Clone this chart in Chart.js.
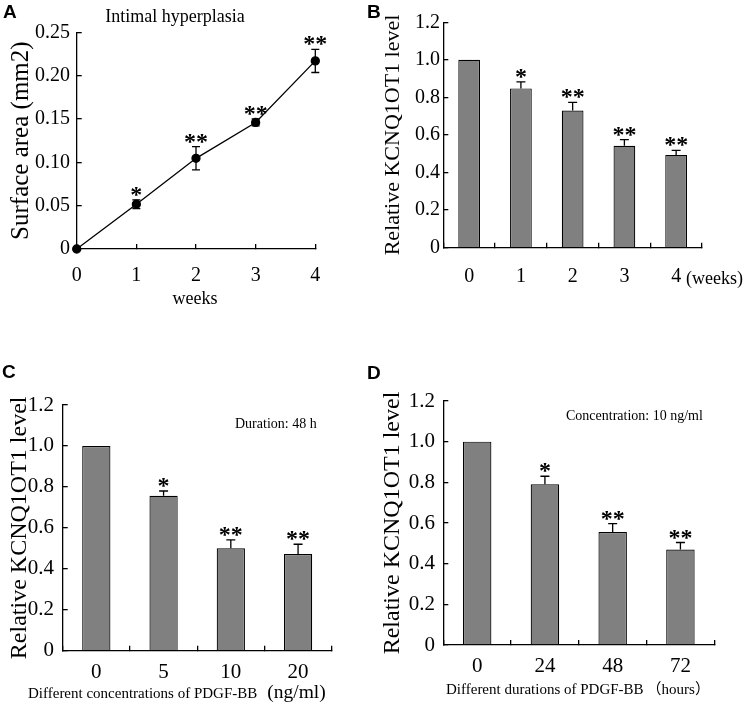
<!DOCTYPE html>
<html>
<head>
<meta charset="utf-8">
<script src="https://cdn.jsdelivr.net/npm/chart.js@4.4.0/dist/chart.umd.min.js"></script>
<style>
  body { margin: 0; background: #fff; }
  #wrap { position: relative; width: 747px; height: 705px; }
  canvas { position: absolute; }
</style>
</head>
<body>
<div id="wrap">
  <canvas id="chartA" width="365" height="340" style="left:0px;top:0px"></canvas>
  <canvas id="chartB" width="382" height="340" style="left:365px;top:0px"></canvas>
  <canvas id="chartC" width="365" height="365" style="left:0px;top:340px"></canvas>
  <canvas id="chartD" width="382" height="365" style="left:365px;top:340px"></canvas>
</div>
<script>
const SERIF = '"Liberation Serif", "Times New Roman", serif';
const SANS = '"Liberation Sans", Arial, sans-serif';

// A - intimal hyperplasia over time
const weeks = [0, 1, 2, 3, 4];
const areaMean = [0, 0.0516, 0.1046, 0.146, 0.217];
const areaSem = [0, 0.005, 0.0134, 0.004, 0.0134];
const areaStars = ['', '*', '**', '**', '**'];

// B - KCNQ1OT1 in vessel by week
const weekLabels = ['0', '1', '2', '3', '4'];
const levelByWeek = [1.0, 0.848, 0.73, 0.543, 0.494];
const semByWeek = [0, 0.035, 0.044, 0.032, 0.024];
const starsByWeek = ['', '*', '**', '**', '**'];

// C - PDGF-BB concentration
const concLabels = ['0', '5', '10', '20'];
const levelByConc = [1.0, 0.757, 0.5, 0.472];
const semByConc = [0, 0.023, 0.041, 0.048];
const starsByConc = ['', '*', '**', '**'];

// D - PDGF-BB duration
const hourLabels = ['0', '24', '48', '72'];
const levelByHour = [1.0, 0.79, 0.556, 0.47];
const semByHour = [0, 0.04, 0.041, 0.034];
const starsByHour = ['', '*', '**', '**'];

const errorBars = {
    id: 'errorBars',
    afterDatasetsDraw(chart, args, o) {
        const { ctx } = chart;
        const y = chart.scales.y;
        const pts = chart.getDatasetMeta(0).data;
        ctx.save();
        ctx.strokeStyle = '#000';
        ctx.fillStyle = '#000';
        ctx.lineWidth = 1.3;
        ctx.font = `bold 24px ${SERIF}`;
        ctx.textAlign = 'center';
        ctx.textBaseline = 'alphabetic';
        o.mean.forEach((m, i) => {
            const e = o.sem[i];
            const px = pts[i].x;
            const hi = y.getPixelForValue(m + e);
            const lo = y.getPixelForValue(o.twoSided ? m - e : m);
            if (e > 0) {
                ctx.beginPath();
                ctx.moveTo(px, lo);
                ctx.lineTo(px, hi);
                ctx.moveTo(px - o.cap, hi);
                ctx.lineTo(px + o.cap, hi);
                if (o.twoSided) {
                    ctx.moveTo(px - o.cap, lo);
                    ctx.lineTo(px + o.cap, lo);
                }
                ctx.stroke();
            }
            if (o.stars[i]) ctx.fillText(o.stars[i], px, hi + 2);
        });
        ctx.restore();
    }
};

// free text: panel letters, titles, axis captions
const notes = {
    id: 'notes',
    afterDraw(chart, args, o) {
        const { ctx } = chart;
        ctx.save();
        ctx.fillStyle = '#000';
        ctx.textBaseline = 'alphabetic';
        o.items.forEach(t => {
            let x = t.x;
            t.parts.forEach(([text, font, gap]) => {
                ctx.font = font;
                ctx.textAlign = t.align || 'left';
                x += gap || 0;
                ctx.fillText(text, x, t.y);
                x += ctx.measureText(text).width;
            });
        });
        ctx.restore();
    }
};

const X_H = 50;
const layoutFor = (w, h, area) => ({
    autoPadding: false,
    padding: { left: 0, top: area[1], right: w - area[2], bottom: h - area[3] - X_H }
});

const axisLine = { display: true, color: '#000', width: 1.3 };
const inTicks = { drawOnChartArea: false, drawTicks: true, tickLength: -5, color: '#000', lineWidth: 1.3 };

const yAxis = (o) => ({
    min: 0,
    max: o.max,
    afterFit: s => { s.width = o.left; },
    border: axisLine,
    grid: inTicks,
    ticks: {
        stepSize: o.step,
        padding: o.pad,
        color: '#000',
        font: { family: SERIF, size: o.size },
        callback: v => v === 0 ? '0' : v.toFixed(o.dec)
    },
    title: {
        display: true,
        text: o.title || 'Relative KCNQ1OT1 level',
        color: '#000',
        font: { family: SERIF, size: o.titleSize },
        padding: { top: o.titlePad, bottom: 0 }
    }
});

const xCat = (o) => ({
    afterFit: s => { s.height = X_H; },
    border: axisLine,
    grid: { ...inTicks, offset: true },
    ticks: { padding: o.pad, color: '#000', autoSkip: false, maxRotation: 0, font: { family: SERIF, size: o.size } }
});

const base = {
    responsive: false,
    animation: false,
    events: [],
    plugins: { legend: { display: false }, tooltip: { enabled: false } }
};

const barSet = (values) => ({
    data: values,
    backgroundColor: '#808080',
    borderColor: '#000',
    borderWidth: 1.2,
    categoryPercentage: 1,
    barPercentage: 0.42
});

// Panel A
new Chart(document.getElementById('chartA'), {
    type: 'line',
    data: {
        datasets: [{
            data: weeks.map((w, i) => ({ x: w, y: areaMean[i] })),
            borderColor: '#000',
            borderWidth: 1.3,
            pointRadius: 4,
            pointBackgroundColor: '#000',
            pointBorderColor: '#000',
            tension: 0,
            clip: false
        }]
    },
    options: {
        ...base,
        layout: layoutFor(365, 340, [76.7, 32.3, 315.3, 249]),
        scales: {
            x: {
                type: 'linear', min: 0, max: 4,
                afterFit: s => { s.height = X_H; },
                border: axisLine,
                grid: inTicks,
                ticks: { stepSize: 1, padding: 19.6, color: '#000', font: { family: SERIF, size: 20 } }
            },
            y: yAxis({ max: 0.25, step: 0.05, dec: 2, left: 76.7, pad: 11.7, size: 20,
                title: 'Surface area (mm2)', titleSize: 25, titlePad: 6 })
        },
        plugins: {
            ...base.plugins,
            errorBars: { mean: areaMean, sem: areaSem, stars: areaStars, cap: 4, twoSided: true },
            notes: { items: [
                { x: 3, y: 18, parts: [['A', `bold 19px ${SANS}`]] },
                { x: 175, y: 22, align: 'center', parts: [['Intimal hyperplasia', `18px ${SERIF}`]] },
                { x: 195, y: 304, align: 'center', parts: [['weeks', `18px ${SERIF}`]] }
            ] }
        }
    },
    plugins: [errorBars, notes]
});

// Panel B
new Chart(document.getElementById('chartB'), {
    type: 'bar',
    data: { labels: weekLabels, datasets: [barSet(levelByWeek)] },
    options: {
        ...base,
        layout: layoutFor(382, 340, [78.3, 22.3, 337, 247.7]),
        scales: {
            x: xCat({ pad: 21.9, size: 20 }),
            y: yAxis({ max: 1.2, step: 0.2, dec: 1, left: 78.3, pad: 8.3, size: 20, titleSize: 22, titlePad: 14.8 })
        },
        plugins: {
            ...base.plugins,
            errorBars: { mean: levelByWeek, sem: semByWeek, stars: starsByWeek, cap: 4.5 },
            notes: { items: [
                { x: 2, y: 18, parts: [['B', `bold 19px ${SANS}`]] },
                { x: 321, y: 284, parts: [['(weeks)', `18px ${SERIF}`]] }
            ] }
        }
    },
    plugins: [errorBars, notes]
});

// Panel C
new Chart(document.getElementById('chartC'), {
    type: 'bar',
    data: { labels: concLabels, datasets: [barSet(levelByConc)] },
    options: {
        ...base,
        layout: layoutFor(365, 365, [62.7, 65, 331.7, 310.7]),
        scales: {
            x: xCat({ pad: 14, size: 21 }),
            y: yAxis({ max: 1.2, step: 0.2, dec: 1, left: 62.7, pad: 13.7, size: 21, titleSize: 24, titlePad: 5.6 })
        },
        plugins: {
            ...base.plugins,
            errorBars: { mean: levelByConc, sem: semByConc, stars: starsByConc, cap: 4.5 },
            notes: { items: [
                { x: 2, y: 38, parts: [['C', `bold 19px ${SANS}`]] },
                { x: 235, y: 88, parts: [['Duration: 48 h', `14px ${SERIF}`]] },
                { x: 28, y: 358, parts: [
                    ['Different concentrations of PDGF-BB', `15px ${SERIF}`],
                    ['(ng/ml)', `19.5px ${SERIF}`, 10]
                ] }
            ] }
        }
    },
    plugins: [errorBars, notes]
});

// Panel D
new Chart(document.getElementById('chartD'), {
    type: 'bar',
    data: { labels: hourLabels, datasets: [barSet(levelByHour)] },
    options: {
        ...base,
        layout: layoutFor(382, 365, [78.3, 61, 349.3, 305]),
        scales: {
            x: xCat({ pad: 14, size: 21 }),
            y: yAxis({ max: 1.2, step: 0.2, dec: 1, left: 78.3, pad: 13.3, size: 21, titleSize: 24, titlePad: 13.6 })
        },
        plugins: {
            ...base.plugins,
            errorBars: { mean: levelByHour, sem: semByHour, stars: starsByHour, cap: 4.5 },
            notes: { items: [
                { x: 2, y: 39, parts: [['D', `bold 19px ${SANS}`]] },
                { x: 201, y: 80, parts: [['Concentration: 10 ng/ml', `14px ${SERIF}`]] },
                { x: 81, y: 354, parts: [
                    ['Different durations of PDGF-BB', `15px ${SERIF}`],
                    ['\uFF08hours\uFF09', `15px ${SERIF}, "Noto Sans CJK SC"`, 3]
                ] }
            ] }
        }
    },
    plugins: [errorBars, notes]
});
</script>
</body>
</html>
